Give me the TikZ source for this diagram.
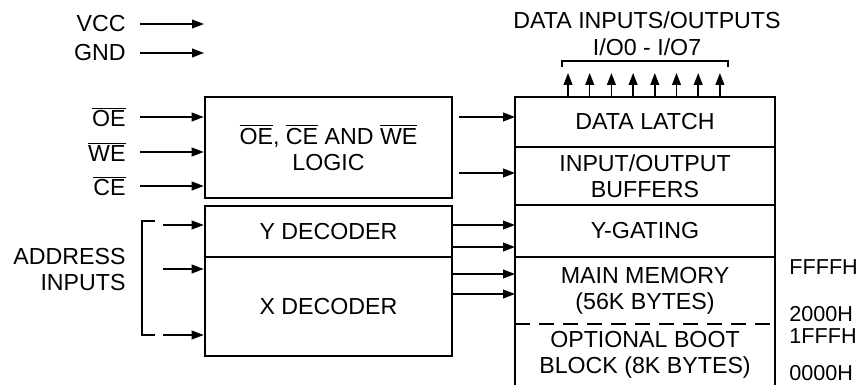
\documentclass[tikz,border=0pt]{standalone}
\usepackage{fontspec}
\setmainfont{Liberation Sans}
\usetikzlibrary{arrows.meta}

\tikzset{
	blk/.style = {draw, line width = 1.3pt, inner sep = 0pt, align = center, minimum width = 123.5pt},
	col/.style = {draw, line width = 1.3pt, inner sep = 0pt, outer sep = 0pt, align = center, minimum width = 130pt},
	arr/.style = {line width = 0.75pt, -{Triangle[length = 6pt, width = 4.4pt]}},
	lbl/.style = {inner sep = 1pt, align = right},
	hex/.style = {inner sep = 0pt, anchor = west, font = \fontsize{10.8}{12}\selectfont}
}

\begin{document}
\begin{tikzpicture}[x = 0.5pt, y = -0.5pt, font = \fontsize{11.6}{13}\selectfont]
	\useasboundingbox (0,0) rectangle (865,385);
	% left blocks
	\node[blk, minimum height = 50.5pt] (logic) at (328.5,147.5) {$\overline{\mbox{OE}}$, $\overline{\mbox{CE}}$ AND $\overline{\mbox{WE}}$\\LOGIC};
	\node[blk, minimum height = 25.5pt] (ydec) at (328.5,231.5) {Y DECODER};
	\node[blk, minimum height = 49.5pt] (xdec) at (328.5,306.5) {X DECODER};
	% memory column
	\node[col, minimum height = 25pt] (latch) at (645,122) {DATA LATCH};
	\node[col, minimum height = 29pt] (iobuf) at (645,176) {INPUT/OUTPUT\\BUFFERS};
	\node[col, minimum height = 26pt] (ygate) at (645,231) {Y-GATING};
	\node[col, draw = none, minimum height = 33.5pt] (mainmem) at (645,290.5) {MAIN MEMORY\\(56K BYTES)};
	\node[col, draw = none, minimum height = 30.5pt] (boot) at (645,354.5) {OPTIONAL BOOT\\BLOCK (8K BYTES)};
	\draw[line width = 1.3pt] (ygate.south west) -- (boot.south west);
	\draw[line width = 1.3pt] (ygate.south east) -- (boot.south east);
	\draw[line width = 1.3pt, dash pattern = on 7.5pt off 4.5pt] (mainmem.south west) -- (mainmem.south east);
	% supply and control inputs
	\node[lbl, anchor = east] (vcc) at (128,24) {VCC};
	\node[lbl, anchor = east] (gnd) at (128,53) {GND};
	\coordinate (vccend) at (204,24);
	\coordinate (gndend) at (204,53);
	\draw[arr] ([xshift = 6pt]vcc.east) -- (vccend);
	\draw[arr] ([xshift = 6pt]gnd.east) -- (gndend);
	\node[lbl, anchor = east] (oe) at (128,117) {$\overline{\mbox{OE}}$};
	\node[lbl, anchor = east] (we) at (128,152) {$\overline{\mbox{WE}}$};
	\node[lbl, anchor = east] (ce) at (128,186) {$\overline{\mbox{CE}}$};
	\foreach \n in {oe,we,ce}
		\draw[arr] ([xshift = 6pt]\n.east) -- (\n.east -| logic.west);
	% address inputs
	\node[lbl, anchor = east] (addr) at (128,269.5) {ADDRESS\\INPUTS};
	\draw[line width = 0.75pt] (155,221) -- (142,221) -- (142,335) -- (155,335);
	\coordinate (a1) at (163,225);
	\coordinate (a2) at (163,269);
	\coordinate (a3) at (163,335);
	\draw[arr] (a1) -- (a1 -| ydec.west);
	\draw[arr] (a2) -- (a2 -| xdec.west);
	\draw[arr] (a3) -- (a3 -| xdec.west);
	% block to block
	\draw[arr] ([xshift = 3pt]logic.east |- 0,117) -- (latch.west |- 0,117);
	\draw[arr] ([xshift = 3pt]logic.east |- 0,173) -- (iobuf.west |- 0,173);
	\foreach \y in {225,247}
		\draw[arr] (ydec.east |- 0,\y) -- (ygate.west |- 0,\y);
	\foreach \y in {274,294}
		\draw[arr] (xdec.east |- 0,\y) -- (mainmem.west |- 0,\y);
	% data lines
	\foreach \i in {0,...,7}
		\draw[arr] (latch.north west) ++(53+21.7*\i,0) -- ++(0,-24);
	\draw[line width = 0.7pt] (562,67) -- (562,61) -- (728,61) -- (728,67);
	\node (dio) at (647,20) {DATA INPUTS/OUTPUTS};
	\node (dnum) at (647,47) {I/O0 - I/O7};
	% address map
	\node[hex] (h1) at (789,267) {FFFFH};
	\node[hex] (h2) at (789,314) {2000H};
	\node[hex] (h3) at (789,336) {1FFFH};
	\node[hex] (h4) at (789,373) {0000H};
\end{tikzpicture}
\end{document}
